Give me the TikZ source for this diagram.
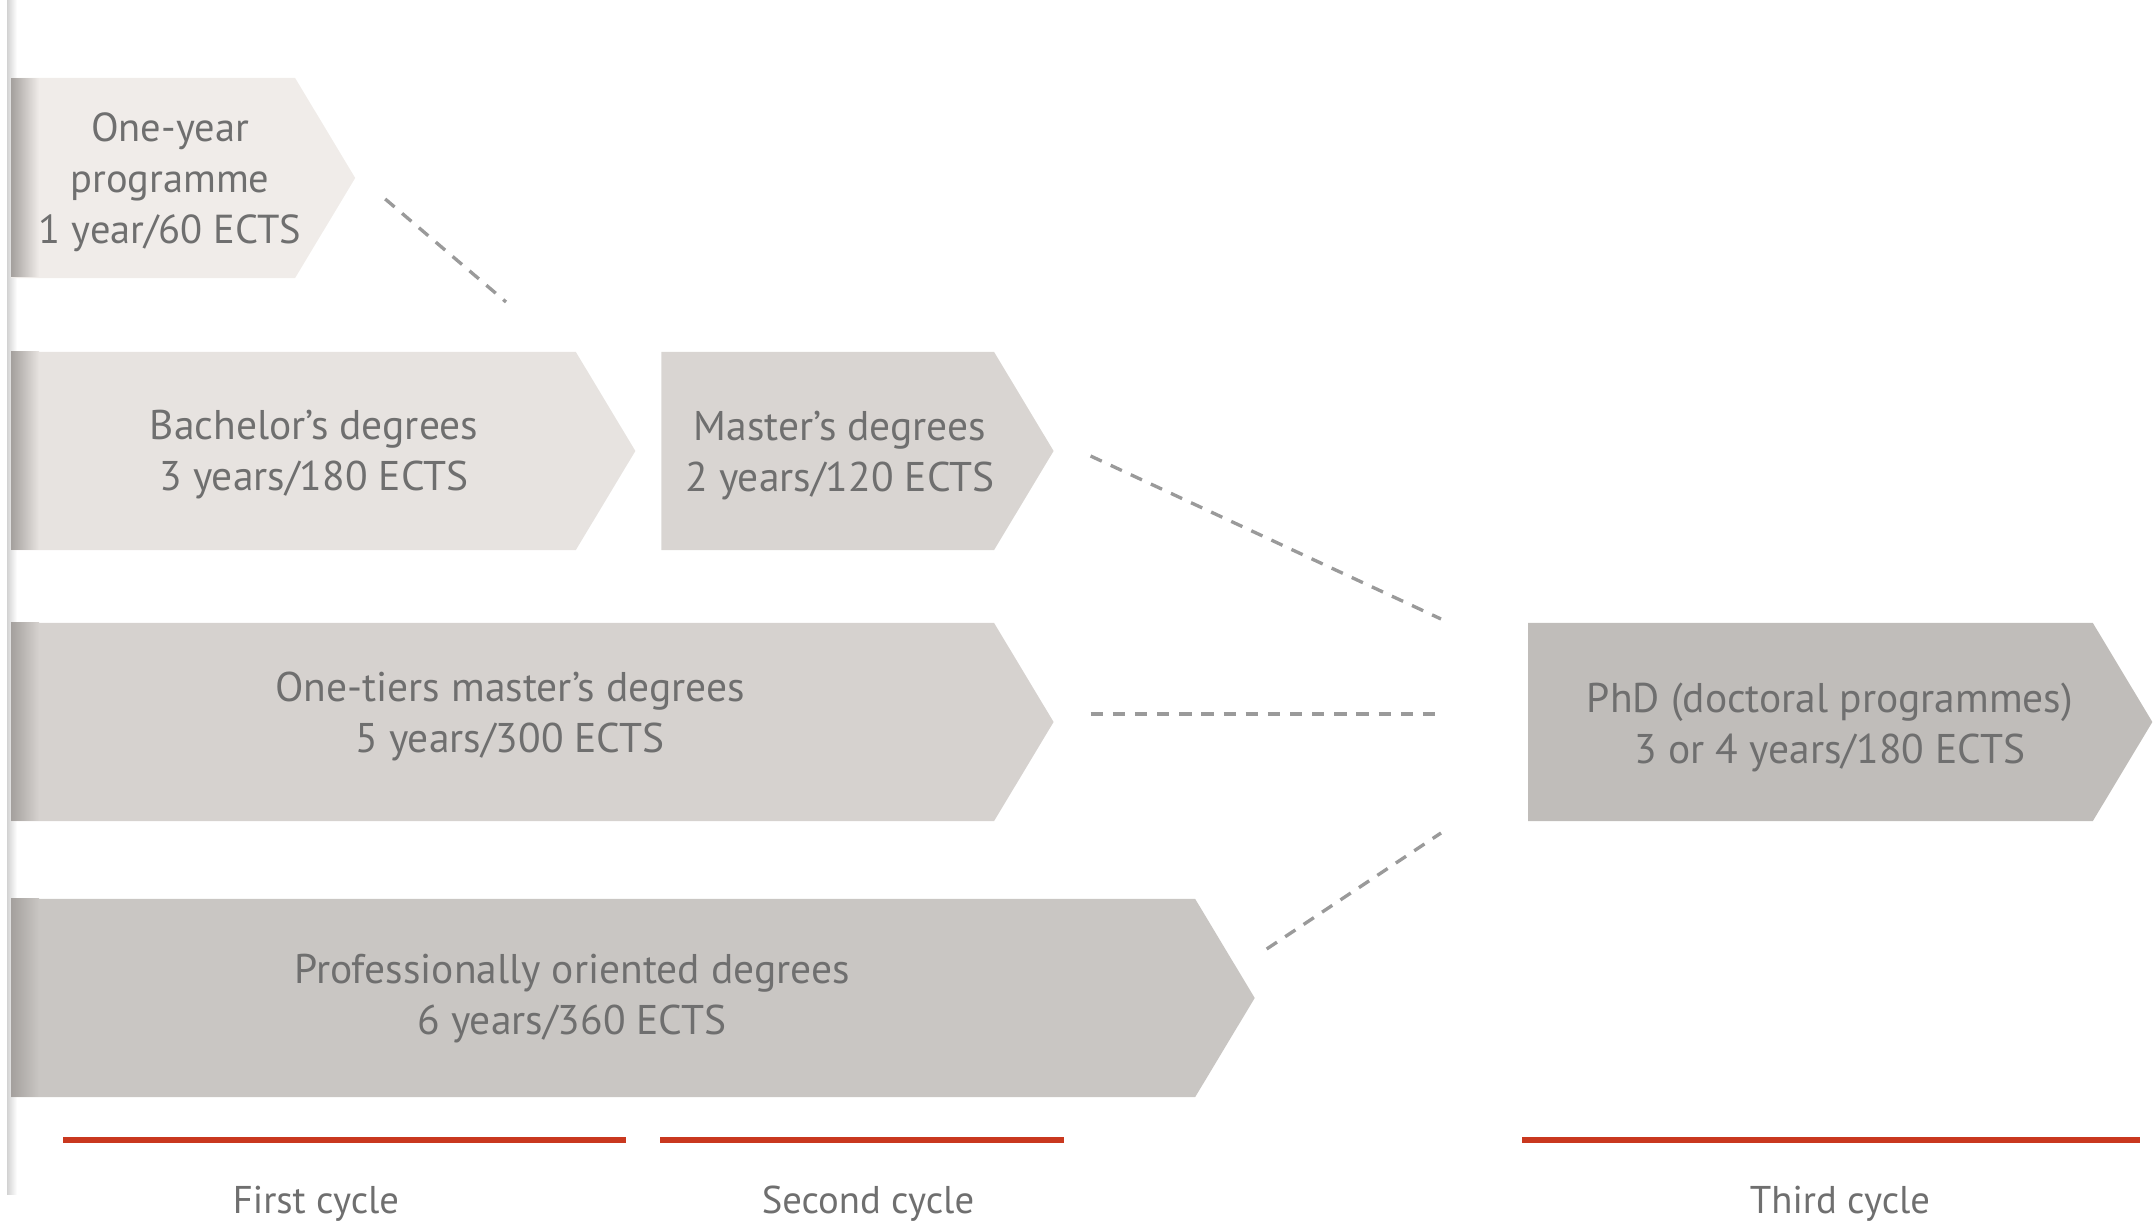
\documentclass[tikz,border=0pt]{standalone}
\usepackage{fontspec}
\setmainfont{PT Sans}
\usepackage{xcolor}
\usetikzlibrary{shapes.symbols, positioning, calc}

\definecolor{oneyearfill}{HTML}{F0ECE9}
\definecolor{bachelorfill}{HTML}{E7E3E0}
\definecolor{masterfill}{HTML}{D9D5D2}
\definecolor{onetierfill}{HTML}{D6D2CF}
\definecolor{proffill}{HTML}{C9C6C3}
\definecolor{phdfill}{HTML}{C0BDBA}
\definecolor{edgegrey}{HTML}{A4A09D}
\definecolor{textgrey}{HTML}{6F6F6F}
\definecolor{dashgrey}{HTML}{9A9A9A}
\definecolor{cyclered}{HTML}{C9381F}

\begin{document}
\begin{tikzpicture}[
    x=0.01cm, y=-0.01cm,
    degree/.style={signal, signal to=east, signal pointer angle=118, draw=none, fill=#1,
        inner sep=0pt, outer sep=0pt, minimum height=1.98cm},
    degtext/.style={align=center, text=textgrey, font=\fontsize{11.8pt}{14.5pt}\selectfont},
    cycletext/.style={text=textgrey, font=\fontsize{11pt}{13pt}\selectfont},
    link/.style={dashgrey, line width=0.95pt, dash pattern=on 3.5pt off 2.8pt},
    cycleline/.style={cyclered, line width=1.7pt}
]
\useasboundingbox (0,0) rectangle (2156,1222);

% left edge strip
\fill[left color=gray!35, right color=white] (7,0) rectangle (17,1195);

% First cycle
\node[degree=oneyearfill, minimum width=3.44cm, minimum height=2.00cm, anchor=west] (oneyear) at (11,178) {};
\node[degree=bachelorfill, minimum width=6.24cm, anchor=west] (bachelor) at (11,451) {};
\node[degree=onetierfill, minimum width=10.42cm, anchor=west] (onetier) at (11,722) {};
\node[degree=proffill, minimum width=12.43cm, anchor=west] (prof) at (11,998) {};

% Second cycle
\node[degree=masterfill, minimum width=3.92cm, right=0.26cm of bachelor] (master) {};

% Third cycle
\node[degree=phdfill, minimum width=6.24cm, anchor=west] (phd) at (1528,722) {};

% shadow on the left side of the first cycle boxes
\foreach \n/\c in {oneyear/oneyearfill, bachelor/bachelorfill, onetier/onetierfill, prof/proffill}
  \shade[left color=edgegrey, right color=\c]
    ($(\n.west)+(0,-99)$) rectangle ($(\n.west)+(28,99)$);

% Texts
\node[degtext, font=\fontsize{11.5pt}{14.5pt}\selectfont] (oneyear-txt) at (170,182) {One-year\\programme\\1 year/60 ECTS};
\node[degtext] (bachelor-txt) at (314,455) {Bachelor’s degrees\\3 years/180 ECTS};
\node[degtext] (master-txt) at (840,456) {Master’s degrees\\2 years/120 ECTS};
\node[degtext] (onetier-txt) at (510,716) {One-tiers master’s degrees\\5 years/300 ECTS};
\node[degtext] (prof-txt) at (572,999) {Professionally oriented degrees\\6 years/360 ECTS};
\node[degtext] (phd-txt) at (1830,727) {PhD\ (doctoral programmes)\\3 or 4 years/180 ECTS};

% Dashed links
\coordinate (oneyear-a) at ($(oneyear.east)+(30,21)$);
\coordinate (oneyear-b) at (506,302);
\coordinate (master-a) at ($(master.east)+(37,5)$);
\coordinate (onetier-a) at ($(onetier.east)+(37,-8)$);
\coordinate (prof-a) at ($(prof.east)+(12,-49)$);
\coordinate (phd-a) at ($(phd.west)+(-87,-103)$);
\coordinate (phd-b) at ($(phd.west)+(-87,-8)$);
\coordinate (phd-c) at ($(phd.west)+(-87,111)$);

\draw[link] (oneyear-a) -- (oneyear-b);
\draw[link] (master-a) -- (phd-a);
\draw[link] (onetier-a) -- (phd-b);
\draw[link] (prof-a) -- (phd-c);

% Cycles
\draw[cycleline] (63,1140) -- (626,1140);
\draw[cycleline] (660,1140) -- (1064,1140);
\draw[cycleline] (1522,1140) -- (2140,1140);

\node[cycletext] (first) at (316,1204) {First cycle};
\node[cycletext] (second) at (868,1204) {Second cycle};
\node[cycletext] (third) at (1840,1204) {Third cycle};

\end{tikzpicture}
\end{document}
